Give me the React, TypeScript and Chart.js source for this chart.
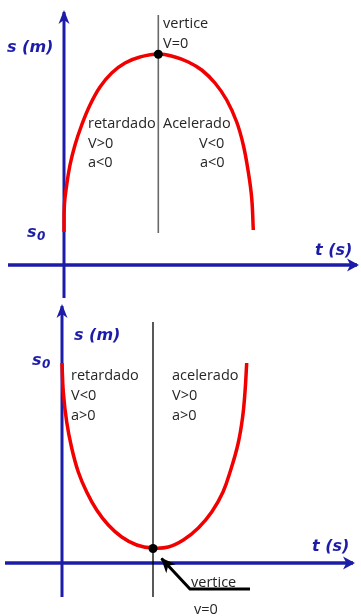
import React, { useEffect, useRef } from "react";
import { Chart, registerables } from "chart.js";

Chart.register(...registerables);

// ---------- data (t in s, s in m) ----------
const topCurveT = [0, 0.04, 0.27, 0.6, 1.1, 1.77, 2.6, 3.6, 4.77, 6.1, 7.6, 9.43, 11.1, 12.43, 13.77, 15.1, 16.27, 17.27, 17.93, 18.43, 18.77, 18.93];
const topCurveS = [3.3, 6.0, 8.0, 10.0, 12.0, 14.0, 16.0, 17.8, 19.2, 20.2, 20.8, 21.1, 20.8, 20.3, 19.5, 18.2, 16.5, 14.3, 12.0, 9.3, 6.7, 3.5];
const topVertex = [9.43, 21.07];
const topVerticalS = [25.0, 3.2];
const topAxisX = [-5.6, 29.3];
const topAxisY = [-3.3, 25.3];

const botCurveT = [0, 0.13, 0.47, 0.97, 1.63, 2.47, 3.47, 4.63, 5.97, 7.47, 9.07, 10.63, 12.13, 13.63, 14.97, 16.1, 16.9, 17.6, 18.05, 18.3, 18.47];
const botCurveS = [20.0, 17.1, 14.1, 11.5, 9.1, 7.1, 5.3, 3.8, 2.6, 1.8, 1.5, 1.6, 2.3, 3.5, 5.1, 7.1, 9.4, 11.9, 14.5, 17.1, 20.0];
const botVertex = [9.1, 1.45];
const botVerticalS = [24.1, -3.4];
const botAxisX = [-5.7, 29.1];
const botAxisY = [-3.4, 25.7];
const botPointerT = [18.8, 12.8, 9.95];
const botPointerS = [-2.6, -2.6, 0.45];

const topLeftNotes = ["retardado", "V>0", "a<0"];
const topRightNotes = ["Acelerado", "V<0", "a<0"];
const topVertexNotes = ["vertice", "V=0"];
const botLeftNotes = ["retardado", "V<0", "a>0"];
const botRightNotes = ["acelerado", "V>0", "a>0"];
const botVertexNotes = ["vertice", "v=0"];
const axisLabelS = "s (m)";
const axisLabelT = "t (s)";

const BLUE = "#1c1ca8";
const RED = "#f20000";
const TEXT = "#262626";

const pts = (xs: number[], ys: number[]) => xs.map((x, i) => ({ x, y: ys[i] }));

function head(ctx: CanvasRenderingContext2D, fx: number, fy: number, tx: number, ty: number, len: number, w: number, color: string, ext: number) {
  const a = Math.atan2(ty - fy, tx - fx);
  ctx.save();
  ctx.translate(tx + Math.cos(a) * ext, ty + Math.sin(a) * ext);
  ctx.rotate(a);
  ctx.beginPath();
  ctx.moveTo(0, 0);
  ctx.lineTo(-len, w / 2);
  ctx.lineTo(-len * 0.72, 0);
  ctx.lineTo(-len, -w / 2);
  ctx.closePath();
  ctx.fillStyle = color;
  ctx.fill();
  ctx.restore();
}

const overlay = {
  id: "overlay",
  afterDatasetsDraw(chart: any, _args: any, opts: any) {
    const ctx: CanvasRenderingContext2D = chart.ctx;
    const xs = chart.scales.x;
    const ys = chart.scales.y;
    const P = (t: number, s: number) => [xs.getPixelForValue(t), ys.getPixelForValue(s)];
    ctx.save();
    (opts.arrows || []).forEach((ar: any) => {
      const [fx, fy] = P(ar.from[0], ar.from[1]);
      const [tx, ty] = P(ar.to[0], ar.to[1]);
      head(ctx, fx, fy, tx, ty, ar.len, ar.w, ar.color, ar.ext);
    });
    ctx.textBaseline = "alphabetic";
    (opts.texts || []).forEach((tx: any) => {
      ctx.font = tx.font;
      ctx.fillStyle = tx.color;
      const [x, y] = P(tx.t, tx.s);
      ctx.fillText(tx.text, x, y);
      if (tx.sub) {
        const w = ctx.measureText(tx.text).width;
        ctx.font = tx.subFont;
        ctx.fillText(tx.sub, x + w + 0.5, y + 3);
      }
    });
    ctx.restore();
  },
};

const BODY = '14.5px "Open Sans"';
const LAB = 'italic bold 16px "DejaVu Sans"';
const SUB = 'italic bold 12px "DejaVu Sans"';

function notes(lines: string[], t: number | number[], s0: number, step: number) {
  return lines.map((text, i) => ({ text, t: Array.isArray(t) ? t[i] : t, s: s0 - i * step, font: BODY, color: TEXT }));
}

function makeConfig(which: "top" | "bot") {
  const isTop = which === "top";
  const curve = isTop ? pts(topCurveT, topCurveS) : pts(botCurveT, botCurveS);
  const vertex = isTop ? topVertex : botVertex;
  const vS = isTop ? topVerticalS : botVerticalS;
  const ax = isTop ? topAxisX : botAxisX;
  const ay = isTop ? topAxisY : botAxisY;

  const datasets: any[] = [
    { data: [{ x: vertex[0], y: vertex[1] }], pointRadius: 4.5, pointBackgroundColor: "#000", pointBorderWidth: 0, showLine: false },
    { data: curve, showLine: true, borderColor: RED, borderWidth: 3.5, tension: 0.4, pointRadius: 0, borderCapStyle: "butt", borderJoinStyle: "round" },
    { data: [{ x: vertex[0], y: vS[0] }, { x: vertex[0], y: vS[1] }], showLine: true, borderColor: isTop ? "#6a6a6a" : "#000", borderWidth: isTop ? 1.6 : 1.3, pointRadius: 0 },
    { data: [{ x: 0, y: ay[0] }, { x: 0, y: ay[1] }], showLine: true, borderColor: BLUE, borderWidth: 3, pointRadius: 0 },
    { data: [{ x: ax[0], y: 0 }, { x: ax[1], y: 0 }], showLine: true, borderColor: BLUE, borderWidth: 3.5, pointRadius: 0 },
  ];
  if (!isTop) {
    datasets.unshift({ data: pts(botPointerT, botPointerS), showLine: true, borderColor: "#000", borderWidth: 3, tension: 0, pointRadius: 0, borderCapStyle: "butt" });
  }

  const arrows: any[] = [
    { from: [0, ay[0]], to: [0, ay[1]], len: 14, w: 11, color: BLUE, ext: 2 },
    { from: [ax[0], 0], to: [ax[1], 0], len: 12, w: 13, color: BLUE, ext: 2 },
  ];
  if (!isTop) {
    arrows.push({ from: [botPointerT[1], botPointerS[1]], to: [botPointerT[2], botPointerS[2]], len: 15, w: 13, color: "#000", ext: 1 });
  }

  const texts: any[] = isTop
    ? [
        ...notes(topVertexNotes, 9.9, 23.7, 2.0),
        ...notes(topLeftNotes, 2.4, 13.7, 1.95),
        ...notes(topRightNotes, [9.9, 13.5, 13.6], 13.7, 1.95),
        { text: axisLabelS, t: -5.7, s: 21.3, font: LAB, color: BLUE },
        { text: "s", sub: "0", t: -3.7, s: 2.8, font: LAB, subFont: SUB, color: BLUE },
        { text: axisLabelT, t: 25.1, s: 1.0, font: LAB, color: BLUE },
      ]
    : [
        ...notes(botLeftNotes, 0.9, 18.3, 2.0),
        ...notes(botRightNotes, 11.0, 18.3, 2.0),
        { text: botVertexNotes[0], t: 12.9, s: -2.4, font: BODY, color: TEXT },
        { text: botVertexNotes[1], t: 13.2, s: -5.1, font: BODY, color: TEXT },
        { text: axisLabelS, t: 1.2, s: 22.3, font: LAB, color: BLUE },
        { text: "s", sub: "0", t: -3.0, s: 19.8, font: LAB, subFont: SUB, color: BLUE },
        { text: axisLabelT, t: 25.0, s: 1.2, font: LAB, color: BLUE },
      ];

  return {
    type: "scatter" as const,
    data: { datasets: datasets.map((d) => ({ clip: false, ...d })) },
    plugins: [overlay],
    options: {
      animation: false,
      responsive: false,
      events: [],
      layout: { padding: 0, autoPadding: false },
      plugins: { legend: { display: false }, tooltip: { enabled: false }, overlay: { arrows, texts } },
      scales: {
        x: { type: "linear", display: false, min: isTop ? -6.4 : -6.2, max: isTop ? 29.7 : 29.9 },
        y: { type: "linear", display: false, min: isTop ? -3.5 : -5.3, max: isTop ? 26.5 : 26.3 },
      },
    },
  };
}

function Panel({ which, height }: { which: "top" | "bot"; height: number }) {
  const ref = useRef<HTMLCanvasElement | null>(null);
  useEffect(() => {
    if (!ref.current) return;
    const chart = new Chart(ref.current, makeConfig(which) as any);
    return () => chart.destroy();
  }, [which]);
  return <canvas ref={ref} width={361} height={height} style={{ display: "block", width: 361, height }} />;
}

export default function App() {
  return (
    <div style={{ position: "absolute", left: 0, top: 0, width: 361, height: 616, background: "#fff" }}>
      <Panel which="top" height={300} />
      <Panel which="bot" height={316} />
    </div>
  );
}
